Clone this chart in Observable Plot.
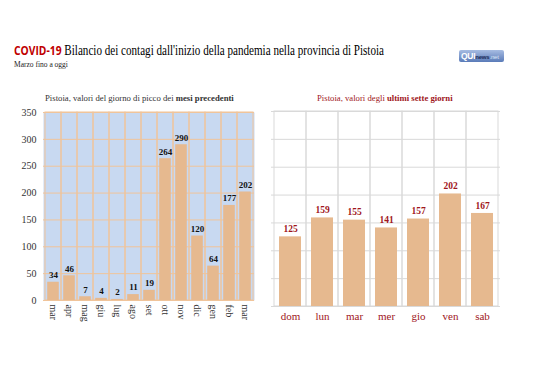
<!DOCTYPE html>
<html><head><meta charset="utf-8">
<script src="https://cdn.jsdelivr.net/npm/d3@7"></script>
<script src="https://cdn.jsdelivr.net/npm/@observablehq/plot@0.6"></script>
<style>
body{margin:0;background:#fff;width:538px;height:380px;position:relative;overflow:hidden;font-family:"Liberation Serif",serif}
.abs{position:absolute;white-space:nowrap}
#title{left:14px;top:41px;font-size:14px;color:#000;transform-origin:0 50%}
#title .c{font-family:"Open Sans",sans-serif;font-weight:bold;color:#c00000;font-size:13px}
#sub{left:14px;top:60px;font-size:7.5px;color:#222}
#logo{left:459px;top:50px;width:45px;height:12px;background:linear-gradient(#a7bce2,#5a7bb8);border-radius:2px;font-family:"Liberation Sans",sans-serif;line-height:12px;font-size:8.5px;color:#fff;font-weight:bold;padding-left:2px;box-sizing:border-box;overflow:hidden;letter-spacing:-0.3px}
#logo .n{font-size:6px;color:#1a2a55;letter-spacing:-0.2px}
#logo .t{font-size:6px;color:#dde5f5;font-weight:normal;letter-spacing:-0.2px}
#lt{left:45px;top:93px;font-size:8.7px;color:#333}
#rt{left:317px;top:93px;font-size:8.7px;color:#a0161b}
#left{left:0;top:80px}
#right{left:265px;top:80px}
</style></head><body>
<div class="abs" id="title"><span class="c">COVID-19</span> Bilancio dei contagi dall'inizio della pandemia nella provincia di Pistoia</div>
<div class="abs" id="sub">Marzo fino a oggi</div>
<div class="abs" id="logo">QUI<span class="n">news</span><span class="t">.net</span></div>
<div class="abs" id="left"></div>
<div class="abs" id="right"></div>
<div class="abs" id="lt">Pistoia, valori del giorno di picco dei <b>mesi precedenti</b></div>
<div class="abs" id="rt">Pistoia, valori degli <b>ultimi sette giorni</b></div>
<script>
const monthLabels = ["mar","apr","mag","giu","lug","ago","set","ott","nov","dic","gen","feb","mar"];
const monthValues = [34,46,7,4,2,11,19,264,290,120,64,177,202];
const dayLabels = ["dom","lun","mar","mer","gio","ven","sab"];
const dayValues = [125,159,155,141,157,202,167];
const yTicks = [0,50,100,150,200,250,300,350];

// fit title to reference width
const t = document.getElementById("title");
const w = t.getBoundingClientRect().width;
t.style.transform = `scaleX(${Math.min(1, 370 / w)})`;

const idx = d3.range(monthLabels.length);
const left = Plot.plot({
  width:270,height:250,marginLeft:43,marginRight:16,marginTop:32,marginBottom:30,
  style:{fontFamily:"Liberation Serif",fontSize:"10px",color:"#333",background:"transparent"},
  x:{type:"band",domain:idx,padding:0,tickFormat:i=>monthLabels[i],tickRotate:90,tickSize:0,tickPadding:4,label:null},
  y:{domain:[0,350],ticks:yTicks,tickSize:0,tickPadding:7,label:null},
  marks:[
    Plot.frame({fill:"#c8d9f1"}),
    Plot.gridY(yTicks,{stroke:"#f0c49a",strokeOpacity:1}),
    Plot.barY(idx,{x:d=>d,y1:0,y2:350,fill:"none",stroke:"#f0c49a"}),
    Plot.barY(idx,{x:d=>d,y:i=>monthValues[i],fill:"#e6b98f",insetLeft:2.2,insetRight:2.2}),
    Plot.text(idx,{x:d=>d,y:i=>monthValues[i],text:i=>String(monthValues[i]),dy:-7,fontWeight:"bold",fontSize:9,fill:"#111"})
  ]
});
document.getElementById("left").appendChild(left);

const right = Plot.plot({
  width:273,height:250,marginLeft:6,marginRight:38,marginTop:31,marginBottom:24,
  style:{fontFamily:"Liberation Serif",fontSize:"11px",color:"#a0161b",background:"transparent"},
  x:{type:"band",domain:dayLabels,padding:0,tickSize:0,tickPadding:6,label:null},
  y:{domain:[0,350],axis:null},
  marks:[
    Plot.gridY(yTicks,{stroke:"#d9d9d9",strokeOpacity:1}),
    Plot.barY(dayLabels,{x:d=>d,y1:0,y2:350,fill:"none",stroke:"#d9d9d9"}),
    Plot.barY(dayLabels,{x:d=>d,y:(d,i)=>dayValues[i],fill:"#e6b98f",insetLeft:5,insetRight:5}),
    Plot.text(dayLabels,{x:d=>d,y:(d,i)=>dayValues[i],text:(d,i)=>String(dayValues[i]),dy:-8,fontWeight:"bold",fontSize:9.5,fill:"#a0161b"})
  ]
});
document.getElementById("right").appendChild(right);
</script>
</body></html>
